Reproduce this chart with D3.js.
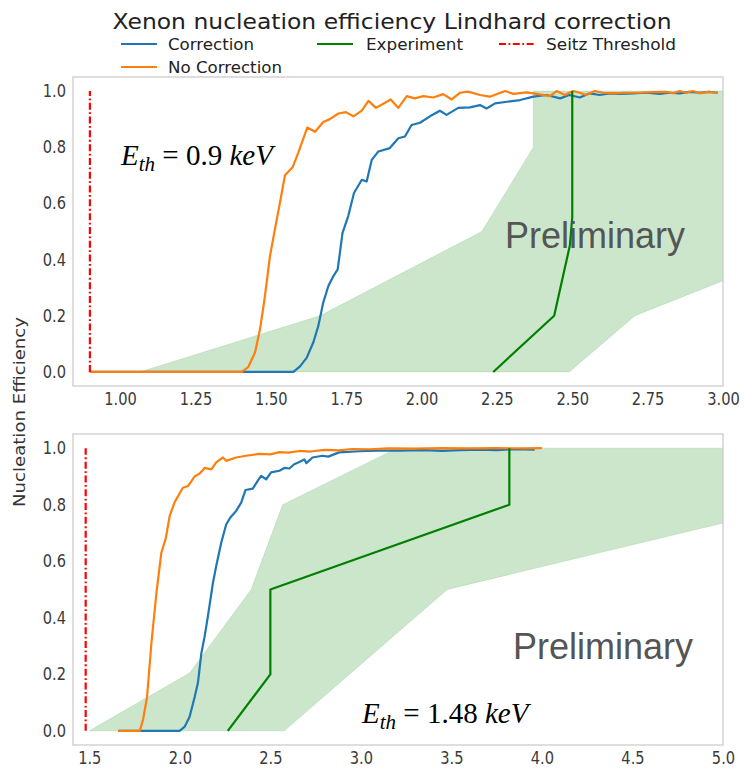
<!DOCTYPE html>
<html>
<head>
<meta charset="utf-8">
<script src="https://cdn.jsdelivr.net/npm/d3@7"></script>
<style>
  body { margin: 0; background: #fff; }
  svg text { font-family: "DejaVu Sans", sans-serif; }
</style>
</head>
<body>
<svg id="chart" width="744" height="768"></svg>
<script>
// ---- Upper panel (Seitz threshold 0.9 keV) ----
const upperCorrection = [
  [0.9,0],[1.575,0],[1.597,0.02],[1.619,0.05],[1.641,0.105],[1.658,0.165],[1.674,0.247],
  [1.691,0.306],[1.707,0.34],[1.722,0.365],[1.738,0.495],[1.757,0.555],[1.776,0.637],
  [1.802,0.684],[1.818,0.678],[1.835,0.755],[1.857,0.785],[1.895,0.797],[1.923,0.832],
  [1.945,0.838],[1.967,0.879],[1.995,0.887],[2.028,0.91],[2.061,0.93],[2.083,0.915],
  [2.122,0.94],[2.161,0.942],[2.194,0.95],[2.216,0.938],[2.244,0.956],[2.283,0.962],
  [2.327,0.968],[2.371,0.98],[2.415,0.986],[2.46,0.974],[2.49,0.986],[2.525,0.977],
  [2.558,0.992],[2.591,0.986],[2.624,0.992],[2.657,0.99],[2.701,0.992],[2.745,0.994],
  [2.79,0.99],[2.823,0.994],[2.856,0.992],[2.889,0.997],[2.922,0.994],[2.955,0.997],[2.983,0.994]
];
const upperNoCorrection = [
  [0.9,0],[1.404,0],[1.425,0.017],[1.448,0.07],[1.464,0.15],[1.478,0.25],[1.489,0.34],
  [1.497,0.41],[1.514,0.51],[1.53,0.6],[1.547,0.7],[1.573,0.73],[1.591,0.78],[1.621,0.87],
  [1.647,0.855],[1.674,0.89],[1.696,0.9],[1.724,0.92],[1.749,0.925],[1.774,0.91],[1.802,0.93],
  [1.824,0.965],[1.849,0.94],[1.873,0.955],[1.898,0.97],[1.923,0.94],[1.951,0.982],[1.978,0.974],
  [2.006,0.982],[2.039,0.977],[2.072,0.989],[2.1,0.97],[2.128,0.994],[2.155,0.998],[2.194,0.986],
  [2.227,0.98],[2.277,1.0],[2.305,0.99],[2.349,0.995],[2.382,0.99],[2.426,0.982],[2.448,1.0],
  [2.476,0.986],[2.503,1.0],[2.525,0.994],[2.547,0.986],[2.575,1.0],[2.602,0.994],[2.635,0.992],
  [2.679,0.994],[2.723,0.994],[2.767,0.996],[2.812,0.997],[2.834,0.992],[2.856,1.0],[2.878,0.994],
  [2.9,1.0],[2.922,0.992],[2.95,0.997],[2.983,0.994]
];
const upperExperiment = [[2.238,0],[2.44,0.2],[2.492,0.45],[2.5,0.55],[2.5,1.0]];
const upperBandHigh = [[0.9,0],[1.066,0],[1.663,0.2],[2.2,0.5],[2.371,0.8],[2.371,1.0],[3.0,1.0]];
const upperBandLow  = [[0.9,0],[2.49,0],[2.708,0.2],[3.0,0.325]];
const upperThreshold = 0.9;
const upperXTicks = [1.00,1.25,1.50,1.75,2.00,2.25,2.50,2.75,3.00];

// ---- Lower panel (Seitz threshold 1.48 keV) ----
const lowerCorrection = [
  [1.66,0],[1.999,0],[2.027,0.015],[2.054,0.05],[2.082,0.12],[2.1,0.17],[2.119,0.275],
  [2.137,0.334],[2.155,0.405],[2.183,0.524],[2.201,0.583],[2.229,0.666],[2.256,0.73],
  [2.278,0.754],[2.311,0.778],[2.339,0.807],[2.363,0.852],[2.403,0.857],[2.43,0.884],
  [2.449,0.902],[2.477,0.89],[2.504,0.914],[2.55,0.92],[2.577,0.93],[2.605,0.928],[2.632,0.943],
  [2.66,0.951],[2.688,0.96],[2.699,0.947],[2.733,0.967],[2.788,0.973],[2.82,0.97],[2.88,0.985],
  [2.99,0.989],[3.1,0.991],[3.21,0.991],[3.35,0.993],[3.45,0.99],[3.55,0.993],[3.65,0.995],
  [3.75,0.993],[3.85,0.996],[3.96,0.995]
];
const lowerNoCorrection = [
  [1.66,0],[1.779,0],[1.797,0.04],[1.819,0.12],[1.843,0.31],[1.871,0.49],[1.898,0.63],
  [1.922,0.68],[1.944,0.76],[1.972,0.81],[2.017,0.86],[2.045,0.866],[2.082,0.9],[2.11,0.91],
  [2.137,0.93],[2.174,0.925],[2.201,0.95],[2.238,0.967],[2.256,0.955],[2.311,0.967],[2.366,0.973],
  [2.44,0.98],[2.5,0.978],[2.55,0.986],[2.6,0.984],[2.66,0.99],[2.72,0.988],[2.8,0.994],
  [2.88,0.992],[2.95,0.997],[3.05,0.996],[3.15,0.999],[3.3,0.998],[3.45,1.0],[3.6,0.999],
  [3.75,1.0],[3.9,0.999],[4.0,1.0]
];
const lowerExperiment = [[2.265,0],[2.5,0.2],[2.5,0.5],[3.82,0.8],[3.82,1.0]];
const lowerBandHigh = [[1.5,0],[2.054,0.205],[2.394,0.5],[2.568,0.8],[3.2,1.0],[5.0,1.0]];
const lowerBandLow  = [[1.5,0],[2.577,0],[3.477,0.5],[5.0,0.735]];
const lowerThreshold = 1.48;
const lowerXTicks = [1.5,2.0,2.5,3.0,3.5,4.0,4.5,5.0];

const yTicks = [0.0,0.2,0.4,0.6,0.8,1.0];

const legendItems = [
  { label: "Correction",      color: "#1f77b4", dash: null },
  { label: "Experiment",      color: "#008000", dash: null },
  { label: "Seitz Threshold", color: "#ff0000", dash: "7,2.5,1.8,2.5" },
  { label: "No Correction",   color: "#ff7f0e", dash: null }
];

const svg = d3.select("#chart");

// squeeze text horizontally to get the narrow glyph look
function condense(sel, k) {
  sel.each(function () {
    const w = this.getComputedTextLength();
    this.setAttribute("textLength", w * k);
    this.setAttribute("lengthAdjust", "spacingAndGlyphs");
  });
}
function fitWidth(sel, w) {
  sel.attr("textLength", w).attr("lengthAdjust", "spacingAndGlyphs");
}

const panels = [
  { top: 77, bottom: 386, left: 73, right: 723, xDomain: [0.844, 3.0], xTicks: upperXTicks, fmt: ".2f",
    corr: upperCorrection, noCorr: upperNoCorrection, exp: upperExperiment,
    hi: upperBandHigh, lo: upperBandLow, thr: upperThreshold,
    eth: "0.9", ethX: 121, ethY: 165, prelimX: 505, prelimY: 248 },
  { top: 434, bottom: 745, left: 73, right: 723, xDomain: [1.41, 5.0], xTicks: lowerXTicks, fmt: ".1f",
    corr: lowerCorrection, noCorr: lowerNoCorrection, exp: lowerExperiment,
    hi: lowerBandHigh, lo: lowerBandLow, thr: lowerThreshold,
    eth: "1.48", ethX: 362, ethY: 723, prelimX: 513, prelimY: 659 }
];

panels.forEach(p => {
  const x = d3.scaleLinear().domain(p.xDomain).range([p.left, p.right]);
  const y = d3.scaleLinear().domain([-0.05, 1.05]).range([p.bottom, p.top]);
  const g = svg.append("g");

  // uncertainty band: upper edge forward, lower edge back
  const poly = p.hi.concat(p.lo.slice().reverse());
  g.append("path")
    .attr("d", d3.line().x(d => x(d[0])).y(d => y(d[1]))(poly) + "Z")
    .attr("fill", "#008000").attr("fill-opacity", 0.2)
    .attr("stroke", "#008000").attr("stroke-opacity", 0.12).attr("stroke-width", 1);

  const line = d3.line().x(d => x(d[0])).y(d => y(d[1]));
  g.append("path").attr("d", line(p.corr)).attr("fill", "none")
    .attr("stroke", "#1f77b4").attr("stroke-width", 2.2).attr("stroke-linejoin", "round");
  g.append("path").attr("d", line(p.noCorr)).attr("fill", "none")
    .attr("stroke", "#ff7f0e").attr("stroke-width", 2.2).attr("stroke-linejoin", "round");
  g.append("path").attr("d", line(p.exp)).attr("fill", "none")
    .attr("stroke", "#008000").attr("stroke-width", 2.2).attr("stroke-linejoin", "round");
  g.append("path").attr("d", line([[p.thr, 0], [p.thr, 1]])).attr("fill", "none")
    .attr("stroke", "#ff0000").attr("stroke-width", 2.2).attr("stroke-dasharray", "7,2.5,1.8,2.5");

  // frame
  g.append("rect")
    .attr("x", p.left).attr("y", p.top)
    .attr("width", p.right - p.left).attr("height", p.bottom - p.top)
    .attr("fill", "none").attr("stroke", "#cccccc").attr("stroke-width", 1.3);

  // axes (no tick marks, labels only)
  const xa = g.append("g").attr("transform", `translate(0,${p.bottom})`)
    .call(d3.axisBottom(x).tickValues(p.xTicks).tickFormat(d3.format(p.fmt)).tickSize(0).tickPadding(7));
  const ya = g.append("g").attr("transform", `translate(${p.left},0)`)
    .call(d3.axisLeft(y).tickValues(yTicks).tickFormat(d3.format(".1f")).tickSize(0).tickPadding(7));
  [xa, ya].forEach(a => {
    a.select(".domain").remove();
    a.selectAll("text").attr("font-family", "DejaVu Sans").attr("font-size", 17).attr("fill", "#3a3a3a");
    condense(a.selectAll("text"), 0.86);
  });

  // threshold energy annotation
  const t = g.append("text").attr("x", p.ethX).attr("y", p.ethY)
    .style("font-family", "'Liberation Serif', 'DejaVu Serif', serif")
    .attr("font-size", 29).attr("fill", "#000");
  t.append("tspan").attr("font-style", "italic").text("E");
  t.append("tspan").attr("font-style", "italic").attr("font-size", 21).attr("dy", 6).text("th");
  t.append("tspan").attr("dy", -6).text(" = " + p.eth + " ");
  t.append("tspan").attr("font-style", "italic").text("keV");

  g.append("text").attr("x", p.prelimX).attr("y", p.prelimY)
    .style("font-family", "'Liberation Sans', Arial, sans-serif")
    .attr("font-size", 36).attr("fill", "#555555").text("Preliminary");
});

// title
fitWidth(svg.append("text").attr("x", 392).attr("y", 29).attr("text-anchor", "middle")
  .attr("font-size", 22).attr("fill", "#222").text("Xenon nucleation efficiency Lindhard correction"), 559);

// legend (3 columns, filled column-wise)
const legPos = [
  { lx: 121, ty: 44, tx: 168, w: 86 },
  { lx: 317, ty: 44, tx: 366, w: 97 },
  { lx: 499, ty: 44, tx: 546, w: 130 },
  { lx: 121, ty: 67, tx: 168, w: 114 }
];
legendItems.forEach((it, i) => {
  const pos = legPos[i];
  svg.append("line").attr("x1", pos.lx).attr("x2", pos.lx + 36).attr("y1", pos.ty).attr("y2", pos.ty)
    .attr("stroke", it.color).attr("stroke-width", 2.2)
    .attr("stroke-dasharray", it.dash);
  fitWidth(svg.append("text").attr("x", pos.tx).attr("y", pos.ty + 6)
    .attr("font-size", 16).attr("fill", "#222").text(it.label), pos.w);
});

// shared y label
fitWidth(svg.append("text").attr("transform", "translate(25,412) rotate(-90)")
  .attr("text-anchor", "middle").attr("font-size", 15).attr("fill", "#333")
  .text("Nucleation Efficiency"), 190);
</script>
</body>
</html>
